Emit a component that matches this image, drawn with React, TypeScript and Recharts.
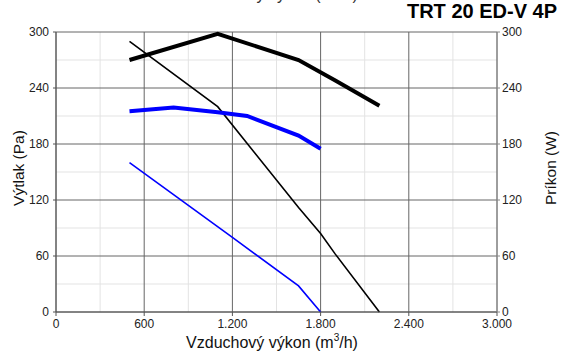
import React from "react";
import {
  LineChart,
  Line,
  XAxis,
  YAxis,
  CartesianGrid,
} from "recharts";

// air flow (m3/h) and values
const highPressureFlow = [500, 1100, 1650, 1800, 1900, 2200];
const highPressure = [290, 220, 112, 84, 62, 0];

const highPowerFlow = [500, 1100, 1650, 1900, 2200];
const highPower = [270, 298, 270, 248, 221];

const lowPressureFlow = [500, 1200, 1650, 1800];
const lowPressure = [160, 80, 28, 0];

const lowPowerFlow = [500, 800, 1100, 1300, 1650, 1800];
const lowPower = [215, 219, 214, 210, 189, 175];

const xTicks = [0, 600, 1200, 1800, 2400, 3000];
const xMinor = [300, 900, 1500, 2100, 2700];
const yTicks = [0, 60, 120, 180, 240, 300];
const yMinor = [30, 90, 150, 210, 270];

const FONT = "'Liberation Sans', Arial, sans-serif";

const toPoints = (xs: number[], ys: number[]) =>
  xs.map((x, i) => ({ x, y: ys[i] }));

const formatFlow = (v: number) =>
  v >= 1000
    ? `${Math.floor(v / 1000)}.${String(v % 1000).padStart(3, "0")}`
    : String(v);

const tickStyle = { fontSize: 12, fill: "#222", fontFamily: FONT };

export default function App() {
  return (
    <div
      style={{
        position: "absolute",
        left: 0,
        top: 0,
        width: 561,
        height: 354,
        background: "#fff",
        fontFamily: FONT,
      }}
    >
      <LineChart
        width={561}
        height={354}
        margin={{ top: 32, right: 0, bottom: 0, left: 0 }}
      >
        <CartesianGrid
          yAxisId="left"
          stroke="#e3e3e3"
          verticalValues={xMinor}
          horizontalValues={yMinor}
        />
        <CartesianGrid yAxisId="left" stroke="#666" />
        <XAxis
          dataKey="x"
          type="number"
          domain={[0, 3000]}
          ticks={xTicks}
          allowDuplicatedCategory={false}
          tickFormatter={formatFlow}
          tick={tickStyle}
          tickSize={4}
          tickMargin={3}
          height={42}
          stroke="#555"
          interval={0}
          label={{
            content: () => (
              <text
                x={272}
                y={348}
                textAnchor="middle"
                fontSize={16}
                fill="#111"
                fontFamily={FONT}
              >
                Vzduchový výkon (m
                <tspan fontSize={10} dy={-7}>
                  3
                </tspan>
                <tspan dy={7}>/h)</tspan>
              </text>
            ),
          }}
        />
        <YAxis
          yAxisId="left"
          orientation="left"
          domain={[0, 300]}
          ticks={yTicks}
          width={56}
          tick={tickStyle}
          tickSize={3}
          tickMargin={4}
          stroke="#555"
          interval={0}
          label={{
            content: () => (
              <text
                transform="translate(24,168) rotate(-90)"
                textAnchor="middle"
                fontSize={15.5}
                fill="#111"
                fontFamily={FONT}
              >
                Výtlak (Pa)
              </text>
            ),
          }}
        />
        <YAxis
          yAxisId="right"
          orientation="right"
          domain={[0, 300]}
          ticks={yTicks}
          width={64}
          tick={tickStyle}
          tickSize={3}
          tickMargin={2}
          stroke="#888"
          interval={0}
          label={{
            content: () => (
              <text
                transform="translate(556,168) rotate(-90)"
                textAnchor="middle"
                fontSize={15.5}
                fill="#111"
                fontFamily={FONT}
              >
                Príkon (W)
              </text>
            ),
          }}
        />
        <Line
          yAxisId="left"
          data={toPoints(highPressureFlow, highPressure)}
          dataKey="y"
          stroke="#000"
          strokeWidth={1.6}
          dot={false}
          isAnimationActive={false}
        />
        <Line
          yAxisId="left"
          data={toPoints(lowPressureFlow, lowPressure)}
          dataKey="y"
          stroke="#0000ff"
          strokeWidth={1.6}
          dot={false}
          isAnimationActive={false}
        />
        <Line
          yAxisId="right"
          data={toPoints(highPowerFlow, highPower)}
          dataKey="y"
          stroke="#000"
          strokeWidth={4}
          dot={false}
          isAnimationActive={false}
        />
        <Line
          yAxisId="right"
          data={toPoints(lowPowerFlow, lowPower)}
          dataKey="y"
          stroke="#0000ff"
          strokeWidth={4}
          dot={false}
          isAnimationActive={false}
        />
      </LineChart>
      <svg
        width={561}
        height={354}
        style={{ position: "absolute", left: 0, top: 0, pointerEvents: "none" }}
      >
        <text
          x={272}
          y={0}
          textAnchor="middle"
          fontSize={16}
          fill="#333"
          fontFamily={FONT}
        >
          Vzduchový výkon (m³/h)
        </text>
        <text
          x={557}
          y={18}
          textAnchor="end"
          fontSize={20}
          fontWeight="bold"
          fill="#000"
          fontFamily={FONT}
        >
          TRT 20 ED-V 4P
        </text>
      </svg>
    </div>
  );
}
